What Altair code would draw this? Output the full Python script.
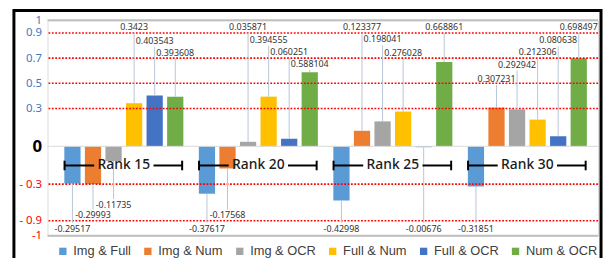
import altair as alt
import pandas as pd

groups = ["Rank 15", "Rank 20", "Rank 25", "Rank 30"]
series = ["Img & Full", "Img & Num", "Img & OCR", "Full & Num", "Full & OCR", "Num & OCR"]
colors = ["#5b9bd5", "#ed7d31", "#a5a5a5", "#ffc000", "#4472c4", "#70ad47"]

rank15 = [-0.29517, -0.29993, -0.11735, 0.3423, 0.403543, 0.393608]
rank20 = [-0.37617, -0.17568, 0.035871, 0.394555, 0.060251, 0.588104]
rank25 = [-0.42998, 0.123377, 0.198041, 0.276028, -0.00676, 0.668861]
rank30 = [-0.31851, 0.307231, 0.292942, 0.212306, 0.080638, 0.698497]

# vertical position (in value units) where each data label sits
label15 = [-0.653, -0.549, -0.465, 0.947, 0.838, 0.740]
label20 = [-0.653, -0.549, 0.947, 0.845, 0.745, 0.656]
label25 = [-0.653, 0.947, 0.848, 0.740, -0.653, 0.947]
label30 = [-0.653, 0.533, 0.649, 0.745, 0.842, 0.947]

tick_positions = [1, 0.9, 0.7, 0.5, 0.3, 0, -0.3, -0.59, -0.71]
tick_texts = ["1", "0.9", "0.7", "0.5", "0.3", "0", "- 0.3", "- 0.9", "-1"]
red_grid = [0.9, 0.7, 0.5, 0.3, -0.3, -0.59]
gray_lines = [1, -0.71]
bracket_y = -0.152

rows = []
for g, vals, labs in zip(groups, [rank15, rank20, rank25, rank30], [label15, label20, label25, label30]):
    for s, v, l in zip(series, vals, labs):
        rows.append({"group": g, "series": s, "value": v, "label_y": l, "text": str(v)})
df = pd.DataFrame(rows)
gdf = pd.DataFrame({"group": groups})

W, H = 557, 218
FONT = "Noto Sans"
LFONT = "Liberation Sans"

x_scale = alt.Scale(paddingInner=0.115, paddingOuter=0.104, align=0.6)
xo_scale = alt.Scale(paddingInner=0.21, paddingOuter=0)
y_scale = alt.Scale(domain=[-0.71, 1.0], nice=False)

label_expr = " : ".join(
    f"abs(datum.value - ({p})) < 0.001 ? '{t}'" for p, t in zip(tick_positions, tick_texts)
) + " : ''"

y_axis = alt.Axis(
    values=tick_positions,
    tickCount=len(tick_positions) + 5,
    labelExpr=label_expr,
    labelOverlap=False,
    labelSeparation=0,
    ticks=False,
    domain=False,
    grid=False,
    title=None,
    labelPadding=6,
    labelFont=FONT,
    labelFontSize={"condition": {"test": "abs(datum.value) < 0.001", "value": 17}, "value": 11.5},
    labelFontWeight={"condition": {"test": "abs(datum.value) < 0.001", "value": "bold"}, "value": "normal"},
    labelColor={
        "condition": [
            {"test": "abs(datum.value) < 0.001", "value": "#000000"},
            {"test": "datum.value < 0", "value": "#ff0000"},
        ],
        "value": "#3f78c0",
    },
)


def Y(field):
    return alt.Y(field, scale=y_scale, axis=y_axis)


X = alt.X("group:N", sort=groups, axis=None, scale=x_scale)
XO = alt.XOffset("series:N", sort=series, scale=xo_scale)

bars = alt.Chart(df).mark_bar().encode(
    x=X,
    xOffset=XO,
    y=Y("value:Q"),
    y2=alt.datum(0),
    color=alt.Color(
        "series:N",
        sort=series,
        scale=alt.Scale(domain=series, range=colors),
        legend=alt.Legend(
            title=None,
            orient="none",
            legendX=9,
            legendY=227,
            direction="horizontal",
            symbolType="square",
            symbolSize=55,
            symbolStrokeWidth=0,
            labelFont=LFONT,
            labelFontSize=13,
            labelColor="#404040",
            columnPadding=10,
            labelOffset=4,
        ),
    ),
)

zero_line = alt.Chart(pd.DataFrame({"pos": [0]})).mark_rule(color="#d9d9d9", strokeWidth=1).encode(
    y=Y("pos:Q")
)
gray = alt.Chart(pd.DataFrame({"pos": gray_lines})).mark_rule(color="#bfbfbf", strokeWidth=2).encode(
    y=Y("pos:Q")
)
red = alt.Chart(pd.DataFrame({"pos": red_grid})).mark_rule(
    color="#ff0000", strokeWidth=1.6, strokeDash=[1.8, 1.6]
).encode(y=Y("pos:Q"))

lead_color = "#b9c4d6"
lead_pos = alt.Chart(df).transform_filter("datum.label_y > 0").mark_rule(
    color=lead_color, strokeWidth=1, y2Offset=6
).encode(x=X, xOffset=XO, y=Y("value:Q"), y2="label_y:Q")
lead_neg = alt.Chart(df).transform_filter("datum.label_y < 0").mark_rule(
    color=lead_color, strokeWidth=1, y2Offset=-6
).encode(x=X, xOffset=XO, y=Y("value:Q"), y2="label_y:Q")

labels = alt.Chart(df).mark_text(font=FONT, fontSize=9, color="#333333", baseline="middle").encode(
    x=X, xOffset=XO, y=Y("label_y:Q"), text="text:N"
)

br_left = alt.Chart(gdf).mark_rule(color="black", strokeWidth=2, xOffset=-60, x2Offset=-30).encode(
    x=X, x2=alt.X2("group:N"), y=alt.datum(bracket_y)
)
br_right = alt.Chart(gdf).mark_rule(color="black", strokeWidth=2, xOffset=30, x2Offset=59).encode(
    x=X, x2=alt.X2("group:N"), y=alt.datum(bracket_y)
)
cap_left = alt.Chart(gdf).mark_rule(color="black", strokeWidth=2, xOffset=-60).encode(
    x=X, y=alt.datum(bracket_y + 0.038), y2=alt.datum(bracket_y - 0.038)
)
cap_right = alt.Chart(gdf).mark_rule(color="black", strokeWidth=2, xOffset=59).encode(
    x=X, y=alt.datum(bracket_y + 0.038), y2=alt.datum(bracket_y - 0.038)
)
br_text = alt.Chart(gdf).mark_text(font=FONT, fontSize=14, color="#1a1a1a", fontWeight=500).encode(
    x=X, y=alt.datum(bracket_y), text="group:N"
)

frame = alt.Chart(pd.DataFrame({"k": [0]})).mark_rect(
    fill="transparent", stroke="black", strokeWidth=3
).encode(x=alt.value(-34), x2=alt.value(560), y=alt.value(-10), y2=alt.value(262))

chart = alt.layer(
    bars, zero_line, gray, red, lead_pos, lead_neg, labels,
    br_left, br_right, cap_left, cap_right, br_text, frame
).properties(
    width=W, height=H,
    autosize=alt.AutoSizeParams(type="none"),
    padding={"left": 40, "top": 11, "right": 5, "bottom": 21},
).configure_view(stroke=None).configure(background="white").configure_axisY(
    labelOverlap=False
)

chart.save("out.html", embed_options={"renderer": "svg", "actions": False})
